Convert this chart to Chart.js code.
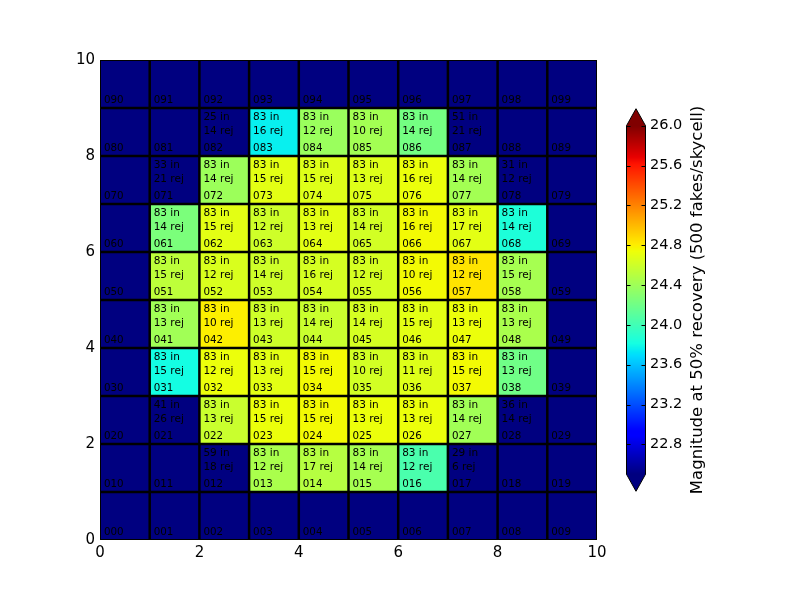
<!DOCTYPE html>
<html>
<head>
<meta charset="utf-8">
<script src="https://cdn.jsdelivr.net/npm/chart.js@4/dist/chart.umd.min.js"></script>
<style>
    html, body { margin: 0; padding: 0; background: #fff; }
    #wrap { width: 800px; height: 600px; }
</style>
</head>
<body>
<div id="wrap"><canvas id="heat" width="800" height="600"></canvas></div>
<script>
// rows listed top (y = 9) to bottom (y = 0), columns x = 0..9
// null = below colour range (no 50% recovery)
const mag = [
    [null, null, null, null, null, null, null, null, null, null],
    [null, null, null, 23.76, 24.38, 24.42, 24.22, null, null, null],
    [null, null, 24.39, 24.69, 24.67, 24.67, 24.73, 24.42, null, null],
    [null, 24.25, 24.69, 24.60, 24.69, 24.62, 24.76, 24.69, 23.85, null],
    [null, 24.53, 24.65, 24.60, 24.63, 24.63, 24.76, 24.84, 24.43, null],
    [null, 24.41, 24.80, 24.60, 24.58, 24.63, 24.69, 24.73, 24.45, null],
    [null, 23.81, 24.73, 24.69, 24.76, 24.62, 24.67, 24.76, 24.20, null],
    [null, null, 24.58, 24.73, 24.76, 24.73, 24.73, 24.41, null, null],
    [null, null, null, 24.45, 24.50, 24.43, 24.04, null, null, null],
    [null, null, null, null, null, null, null, null, null, null]
];
const nIn = [
    [null, null, null, null, null, null, null, null, null, null],
    [null, null, 25, 83, 83, 83, 83, 51, null, null],
    [null, 33, 83, 83, 83, 83, 83, 83, 31, null],
    [null, 83, 83, 83, 83, 83, 83, 83, 83, null],
    [null, 83, 83, 83, 83, 83, 83, 83, 83, null],
    [null, 83, 83, 83, 83, 83, 83, 83, 83, null],
    [null, 83, 83, 83, 83, 83, 83, 83, 83, null],
    [null, 41, 83, 83, 83, 83, 83, 83, 36, null],
    [null, null, 59, 83, 83, 83, 83, 29, null, null],
    [null, null, null, null, null, null, null, null, null, null]
];
const nRej = [
    [null, null, null, null, null, null, null, null, null, null],
    [null, null, 14, 16, 12, 10, 14, 21, null, null],
    [null, 21, 14, 15, 15, 13, 16, 14, 12, null],
    [null, 14, 15, 12, 13, 14, 16, 17, 14, null],
    [null, 15, 12, 14, 16, 12, 10, 12, 15, null],
    [null, 13, 10, 13, 14, 14, 15, 13, 13, null],
    [null, 15, 12, 13, 15, 10, 11, 15, 13, null],
    [null, 26, 13, 15, 15, 13, 13, 14, 14, null],
    [null, null, 18, 12, 17, 14, 12, 6, null, null],
    [null, null, null, null, null, null, null, null, null, null]
];
const axisTicks = [0, 2, 4, 6, 8, 10];
const cbTicks = [22.8, 23.2, 23.6, 24.0, 24.4, 24.8, 25.2, 25.6, 26.0];
const vmin = 22.5;
const vmax = 26.0;
const cbLabel = 'Magnitude at 50% recovery (500 fakes/skycell)';

const FONT = '"DejaVu Sans", sans-serif';

function interp(pts, t) {
    for (let i = 1; i < pts.length; i++) {
        if (t <= pts[i][0]) {
            const [t0, v0] = pts[i - 1], [t1, v1] = pts[i];
            return v0 + (v1 - v0) * (t - t0) / (t1 - t0);
        }
    }
    return pts[pts.length - 1][1];
}

// matplotlib "jet"
function jet(t) {
    t = Math.max(0, Math.min(1, t));
    const r = interp([[0, 0], [0.35, 0], [0.66, 1], [0.89, 1], [1, 0.5]], t);
    const g = interp([[0, 0], [0.125, 0], [0.375, 1], [0.64, 1], [0.91, 0], [1, 0]], t);
    const b = interp([[0, 0.5], [0.11, 1], [0.34, 1], [0.65, 0], [1, 0]], t);
    return `rgb(${Math.round(r * 255)},${Math.round(g * 255)},${Math.round(b * 255)})`;
}

function colorFor(v) {
    if (v === null) return jet(0);
    return jet((v - vmin) / (vmax - vmin));
}

function pad3(n) {
    return String(n).padStart(3, '0');
}

const points = [];
for (let r = 0; r < mag.length; r++) {
    for (let c = 0; c < mag[r].length; c++) {
        points.push({x: c + 0.5, y: mag.length - 1 - r + 0.5});
    }
}

const cellPlugin = {
    id: 'cells',
    beforeDatasetsDraw(chart) {
        const {ctx, chartArea, scales: {x, y}} = chart;
        const nRows = mag.length;
        ctx.save();
        for (let r = 0; r < nRows; r++) {
            const yv = nRows - 1 - r;
            for (let c = 0; c < mag[r].length; c++) {
                const x0 = x.getPixelForValue(c), x1 = x.getPixelForValue(c + 1);
                const y0 = y.getPixelForValue(yv + 1), y1 = y.getPixelForValue(yv);
                ctx.fillStyle = colorFor(mag[r][c]);
                ctx.fillRect(x0, y0, x1 - x0, y1 - y0);
            }
        }

        // cell separators
        ctx.strokeStyle = '#000';
        ctx.lineWidth = 2.5;
        ctx.beginPath();
        for (let k = 1; k < 10; k++) {
            const px = x.getPixelForValue(k);
            ctx.moveTo(px, chartArea.top);
            ctx.lineTo(px, chartArea.bottom);
            const py = y.getPixelForValue(k);
            ctx.moveTo(chartArea.left, py);
            ctx.lineTo(chartArea.right, py);
        }
        ctx.stroke();

        // cell text
        ctx.fillStyle = '#000';
        ctx.textAlign = 'left';
        ctx.textBaseline = 'alphabetic';
        for (let r = 0; r < nRows; r++) {
            const yv = nRows - 1 - r;
            for (let c = 0; c < mag[r].length; c++) {
                const tx = x.getPixelForValue(c + 0.08);
                if (nIn[r][c] !== null) {
                    ctx.font = '10.5px ' + FONT;
                    ctx.fillText(nIn[r][c] + ' in', tx, y.getPixelForValue(yv + 0.75));
                    ctx.fillText(nRej[r][c] + ' rej', tx, y.getPixelForValue(yv + 0.46));
                }
                ctx.font = '10.3px ' + FONT;
                ctx.fillText(pad3(yv * 10 + c), tx, y.getPixelForValue(yv + 0.1));
            }
        }

        // axes frame
        ctx.lineWidth = 1;
        ctx.strokeRect(chartArea.left + 0.5, chartArea.top + 0.5,
            chartArea.right - chartArea.left - 1, chartArea.bottom - chartArea.top - 1);
        ctx.restore();
    }
};

const colorbarPlugin = {
    id: 'colorbar',
    afterDraw(chart) {
        const {ctx, chartArea} = chart;
        const cb = chart.scales.cb;
        const left = chartArea.right + 29.5;
        const w = 19;
        const top = cb.getPixelForValue(vmax);
        const bottom = cb.getPixelForValue(vmin);
        const arrow = 17;
        ctx.save();

        for (let py = Math.floor(top); py < Math.ceil(bottom); py++) {
            const v = cb.getValueForPixel(py + 0.5);
            ctx.fillStyle = colorFor(Math.max(vmin, v));
            ctx.fillRect(left, py, w, 1);
        }
        // extend arrows
        ctx.fillStyle = jet(1);
        ctx.beginPath();
        ctx.moveTo(left, top);
        ctx.lineTo(left + w / 2, top - arrow);
        ctx.lineTo(left + w, top);
        ctx.closePath();
        ctx.fill();
        ctx.fillStyle = jet(0);
        ctx.beginPath();
        ctx.moveTo(left, bottom);
        ctx.lineTo(left + w / 2, bottom + arrow);
        ctx.lineTo(left + w, bottom);
        ctx.closePath();
        ctx.fill();

        // outline
        ctx.strokeStyle = '#000';
        ctx.lineWidth = 1;
        ctx.beginPath();
        ctx.moveTo(left, top);
        ctx.lineTo(left + w / 2, top - arrow);
        ctx.lineTo(left + w, top);
        ctx.lineTo(left + w, bottom);
        ctx.lineTo(left + w / 2, bottom + arrow);
        ctx.lineTo(left, bottom);
        ctx.closePath();
        ctx.stroke();

        // tick marks
        ctx.beginPath();
        cbTicks.forEach(v => {
            const py = Math.round(cb.getPixelForValue(v)) + 0.5;
            ctx.moveTo(left, py);
            ctx.lineTo(left + 4, py);
            ctx.moveTo(left + w - 4, py);
            ctx.lineTo(left + w, py);
        });
        ctx.stroke();

        // label
        ctx.fillStyle = '#000';
        ctx.font = '16.5px ' + FONT;
        ctx.textAlign = 'center';
        ctx.textBaseline = 'middle';
        ctx.translate(chartArea.right + 101, (top + bottom) / 2);
        ctx.rotate(-Math.PI / 2);
        ctx.fillText(cbLabel, 0, 0);
        ctx.restore();
    }
};

new Chart(document.getElementById('heat'), {
    type: 'scatter',
    data: {
        datasets: [{
            data: points,
            pointRadius: 0,
            pointHoverRadius: 0
        }]
    },
    options: {
        responsive: false,
        animation: false,
        devicePixelRatio: 1,
        events: [],
        layout: {padding: {left: 30, right: 103, top: 60, bottom: 20}},
        plugins: {legend: {display: false}, tooltip: {enabled: false}},
        scales: {
            x: {
                type: 'linear',
                min: 0,
                max: 10,
                afterBuildTicks: s => { s.ticks = axisTicks.map(v => ({value: v})); },
                afterFit: s => { s.height = 40; },
                grid: {display: false, drawTicks: false},
                border: {display: false},
                ticks: {color: '#000', padding: 4, font: {family: FONT, size: 15}}
            },
            y: {
                type: 'linear',
                min: 0,
                max: 10,
                afterBuildTicks: s => { s.ticks = axisTicks.map(v => ({value: v})); },
                afterFit: s => { s.width = 70; },
                grid: {display: false, drawTicks: false},
                border: {display: false},
                ticks: {color: '#000', padding: 5, font: {family: FONT, size: 15}}
            },
            cb: {
                type: 'linear',
                position: 'right',
                min: vmin - 0.66,
                max: vmax + 0.66,
                afterBuildTicks: s => { s.ticks = cbTicks.map(v => ({value: v})); },
                afterFit: s => { s.width = 100; },
                // invisible tick lines only push the labels clear of the bar
                grid: {
                    display: true, drawOnChartArea: false, drawTicks: true,
                    tickLength: 50, color: 'rgba(0,0,0,0)'
                },
                border: {display: false},
                ticks: {
                    color: '#000', padding: 3,
                    font: {family: FONT, size: 14.5},
                    callback: v => v.toFixed(1)
                }
            }
        }
    },
    plugins: [cellPlugin, colorbarPlugin]
});
</script>
</body>
</html>
